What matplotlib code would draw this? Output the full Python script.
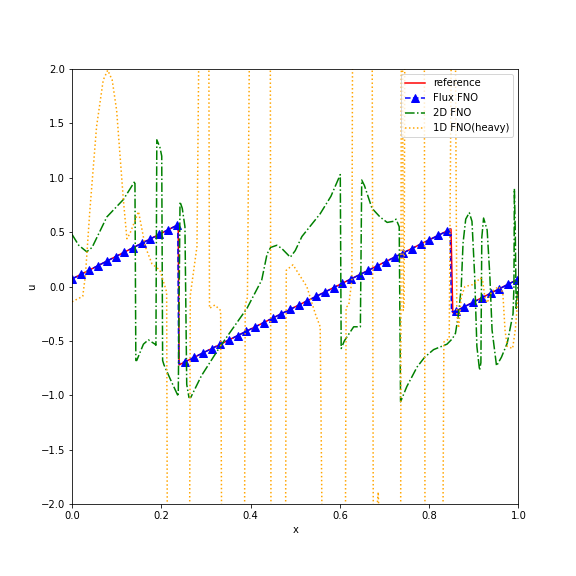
import numpy as np
import matplotlib
matplotlib.use("Agg")
import matplotlib.pyplot as plt

# reference solution (sawtooth)
ref_x = [0.0, 0.238, 0.240, 0.849, 0.853, 1.0]
ref_u = [0.07, 0.57, -0.72, 0.53, -0.24, 0.07]

# Flux FNO: markers on the 1024-point grid, one every 20 points
flux_mx = np.linspace(0, 1, 1024, endpoint=False)[::20]
flux_mu = [0.07, 0.111, 0.152, 0.193, 0.234, 0.275, 0.316, 0.357, 0.398, 0.439,
           0.480, 0.521, 0.562, -0.691, -0.651, -0.611, -0.571, -0.531, -0.491,
           -0.451, -0.411, -0.371, -0.331, -0.291, -0.251, -0.211, -0.171,
           -0.131, -0.091, -0.051, -0.011, 0.029, 0.069, 0.109, 0.149, 0.189,
           0.229, 0.270, 0.310, 0.350, 0.390, 0.430, 0.470, 0.510, -0.227,
           -0.186, -0.145, -0.104, -0.063, -0.022, 0.020, 0.061]
# points along the two shocks (no markers there)
flux_jx = [0.237, 0.239, 0.847, 0.850]
flux_ju = [0.57, -0.71, 0.53, -0.23]

# 2D FNO
fno2d_x = [0.0, 0.015, 0.033, 0.045, 0.078, 0.115, 0.141, 0.143, 0.145, 0.16,
           0.171, 0.186, 0.188, 0.19, 0.197, 0.201, 0.203, 0.206, 0.22, 0.238,
           0.242, 0.247, 0.253, 0.257, 0.262, 0.266, 0.29, 0.332, 0.392, 0.425,
           0.437, 0.445, 0.459, 0.47, 0.489, 0.50, 0.515, 0.556, 0.58, 0.601,
           0.603, 0.61, 0.631, 0.646, 0.649, 0.655, 0.672, 0.69, 0.706, 0.72,
           0.726, 0.733, 0.736, 0.74, 0.75, 0.773, 0.79, 0.81, 0.84, 0.852,
           0.859, 0.866, 0.872, 0.876, 0.882, 0.89, 0.896, 0.902, 0.907, 0.913,
           0.916, 0.918, 0.922, 0.93, 0.936, 0.941, 0.951, 0.962, 0.975, 0.988,
           0.99, 0.991, 0.993, 0.995, 1.0]
fno2d_u = [0.48, 0.38, 0.32, 0.36, 0.64, 0.80, 0.97, -0.68, -0.68, -0.53,
           -0.49, -0.53, -0.54, 1.35, 1.28, 1.2, -0.68, -0.72, -0.85, -1.01,
           0.78, 0.72, 0.55, -0.9, -1.02, -1.02, -0.82, -0.55, -0.2, 0.06,
           0.30, 0.36, 0.38, 0.35, 0.27, 0.33, 0.46, 0.67, 0.83, 1.03,
           -0.57, -0.5, -0.37, -0.37, 0.98, 0.93, 0.72, 0.64, 0.59, 0.6,
           0.62, 0.55, -1.06, -1.02, -0.92, -0.74, -0.65, -0.58, -0.53, -0.48,
           -0.43, -0.25, 0.0, 0.4, 0.62, 0.68, 0.6, 0.1, -0.55, -0.77,
           -0.7, 0.45, 0.63, 0.52, 0.1, -0.40, -0.73, -0.65, -0.52, -0.25,
           0.0, 0.90, 0.5, -0.2, 0.05]

# 1D FNO (heavy) -- blows up, goes far outside the plotted range
fno1d_x = [0.0, 0.024, 0.03, 0.04, 0.055, 0.07, 0.08, 0.09, 0.10, 0.115,
           0.123, 0.13, 0.149, 0.164, 0.179, 0.197, 0.212, 0.214, 0.263, 0.265,
           0.28, 0.286, 0.306, 0.308, 0.32, 0.333, 0.336, 0.386, 0.388, 0.393,
           0.399, 0.444, 0.446, 0.478, 0.48, 0.489, 0.495, 0.526, 0.545, 0.556,
           0.562, 0.612, 0.614, 0.62, 0.627, 0.629, 0.672, 0.675, 0.682, 0.686,
           0.689, 0.736, 0.738, 0.740, 0.742, 0.744, 0.746,
           0.789, 0.791, 0.830, 0.833, 0.845, 0.851, 0.858, 0.862, 0.866, 0.872,
           0.88, 0.90, 0.915, 0.92, 0.925, 0.93, 0.94, 0.955, 0.965, 0.97,
           0.975, 0.987, 0.993, 1.0]
fno1d_u = [-0.14, -0.09, 0.1, 0.70, 1.47, 1.9, 1.99, 1.9, 1.62, 0.80,
           0.44, 0.49, 0.69, 0.37, 0.21, 0.15, -0.05, -3.0, -3.0, -0.08,
           0.37, 3.0, 3.0, -0.2, -0.17, -0.22, -3.0, -3.0, -0.17, -0.1,
           3.0, 3.0, -3.0, -3.0, 0.15, 0.18, 0.2, 0.0, -0.25, -0.37,
           -3.0, -3.0, -0.19, -0.17, 0.06, 3.0, 3.0, -2.3, -2.1, -1.89,
           -2.3, -3.0, 3.0, 3.0, -0.22, -0.15, 3.0,
           3.0, -3.0, -3.0, -0.51, -0.48, 3.0, 3.0, -0.25, -0.38, -0.1,
           0.0, 0.02, 0.08, 0.05, -0.1, -0.15, -0.05, 0.0, -0.05, -0.4,
           -0.55, -0.57, -0.4, -0.05]

# merge flux markers and shock points into one line, markers only on the grid
flux_x = np.concatenate([flux_mx, flux_jx])
flux_u = np.concatenate([flux_mu, flux_ju])
order = np.argsort(flux_x)
flux_x = flux_x[order]
flux_u = flux_u[order]
marks = [i for i, k in enumerate(order) if k < len(flux_mx)]

fig = plt.figure(figsize=(8, 8), dpi=72)
ax = fig.add_axes([0.125, 0.125, 0.775, 0.755])
ax.plot(ref_x, ref_u, 'r-', label='reference')
ax.plot(flux_x, flux_u, 'b--^', markevery=marks, markersize=7.5, label='Flux FNO')
ax.plot(fno2d_x, fno2d_u, 'g-.', label='2D FNO')
ax.plot(fno1d_x, fno1d_u, ':', color='orange', label='1D FNO(heavy)')
ax.set_xlim(0, 1)
ax.set_ylim(-2, 2)
ax.set_xlabel('x')
ax.set_ylabel('u')
ax.legend(loc='upper right')
fig.savefig('out.png', dpi=72)
